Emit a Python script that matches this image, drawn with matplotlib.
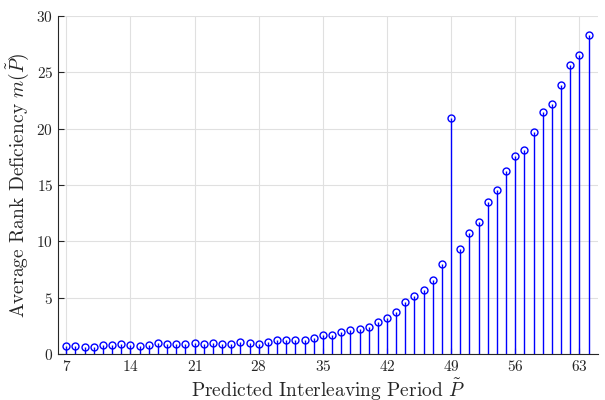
import numpy as np
import matplotlib
matplotlib.use("Agg")
import matplotlib.pyplot as plt

plt.rcParams['font.family'] = ['cmr10', 'DejaVu Serif']
plt.rcParams['mathtext.fontset'] = 'cm'
plt.rcParams['axes.formatter.use_mathtext'] = True

# predicted period and average rank deficiency
periods = list(range(7, 65))
deficiency = [0.74, 0.74, 0.65, 0.65, 0.80, 0.77, 0.89, 0.83, 0.74, 0.80,
              0.95, 0.86, 0.92, 0.92, 0.98, 0.92, 0.98, 0.92, 0.92, 1.07,
              0.98, 0.92, 1.10, 1.24, 1.24, 1.24, 1.24, 1.39, 1.69, 1.66,
              1.95, 2.10, 2.22, 2.40, 2.84, 3.16, 3.73, 4.64, 5.12, 5.71,
              6.60, 7.96, 20.97, 9.35, 10.77, 11.71, 13.50, 14.52, 16.27, 17.57,
              18.13, 19.70, 21.47, 22.15, 23.84, 25.67, 26.56, 28.33]
xticks = [7, 14, 21, 28, 35, 42, 49, 56, 63]
yticks = [0, 5, 10, 15, 20, 25, 30]

fig = plt.figure(figsize=(6.05, 4.0), dpi=100)
ax = fig.add_axes([0.096, 0.115, 0.892, 0.845])

markerline, stemlines, baseline = ax.stem(periods, deficiency, linefmt='-', markerfmt='o', basefmt=' ')
stemlines.set_color('#0000ff')
stemlines.set_linewidth(1.0)
markerline.set_markerfacecolor('none')
markerline.set_markeredgecolor('#0000ff')
markerline.set_markersize(5)
markerline.set_markeredgewidth(1.0)
baseline.set_visible(False)

ax.set_xlim(6.1, 65)
ax.set_ylim(0, 30)
ax.set_xticks(xticks)
ax.set_yticks(yticks)
ax.grid(True, color='#e0e0e0', linewidth=0.8)
ax.set_axisbelow(True)
ax.spines['top'].set_visible(False)
ax.spines['right'].set_visible(False)
ax.spines['left'].set_color('#262626')
ax.spines['bottom'].set_color('#262626')
ax.tick_params(direction='in', length=4, labelsize=11, colors='#262626')

ax.set_xlabel(r'Predicted Interleaving Period $\tilde{P}$', fontsize=14, color='#262626', labelpad=2)
ax.set_ylabel(r'Average Rank Deficiency $m(\tilde{P})$', fontsize=14, color='#262626', labelpad=4)

fig.savefig('out.png', dpi=100)
